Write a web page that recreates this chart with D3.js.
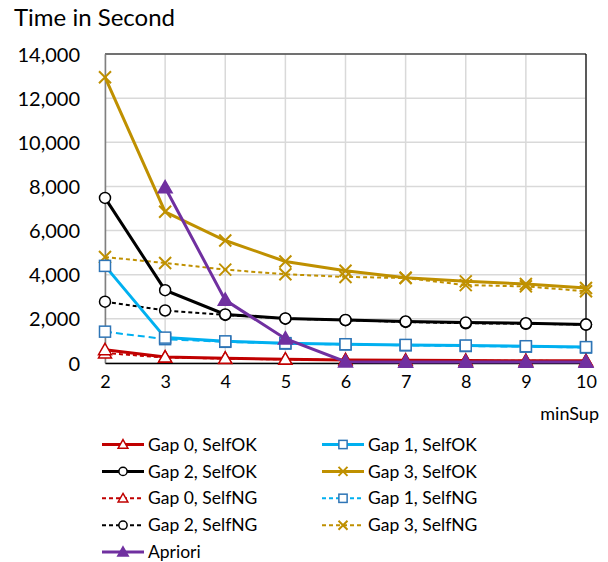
<!DOCTYPE html>
<html>
<head>
<meta charset="utf-8">
<script src="https://cdn.jsdelivr.net/npm/d3@7"></script>
<style>
  body { margin: 0; background: #fff; }
  text { font-family: Lato, "Open Sans", sans-serif; fill: #000; }
</style>
</head>
<body>
<script>
var minSup = [2, 3, 4, 5, 6, 7, 8, 9, 10];
var yTicks = [0, 2000, 4000, 6000, 8000, 10000, 12000, 14000];

var gap0OK = [600, 270, 210, 170, 140, 120, 110, 100, 100];
var gap1OK = [4400, 1150, 980, 900, 850, 820, 790, 760, 720];
var gap2OK = [7480, 3300, 2200, 2020, 1950, 1880, 1830, 1800, 1740];
var gap3OK = [12950, 6850, 5550, 4600, 4180, 3860, 3700, 3580, 3400];
var gap0NG = [450, 250, 200, 160, 130, 110, 100, 100, 90];
var gap1NG = [1420, 1080, 960, 880, 840, 800, 770, 740, 700];
var gap2NG = [2780, 2380, 2180, 2010, 1940, 1860, 1800, 1780, 1740];
var gap3NG = [4800, 4530, 4230, 4020, 3900, 3850, 3530, 3470, 3250];
var apriori = [null, 7950, 2850, 1100, 60, 50, 40, 40, 40];

var series = [
  { name: "Gap 0, SelfOK", values: gap0OK, color: "#C00000", dash: null, marker: "tri", mstroke: "#C00000", mfill: "#fff" },
  { name: "Gap 1, SelfOK", values: gap1OK, color: "#00B0F0", dash: null, marker: "sq", mstroke: "#2E75B6", mfill: "#fff" },
  { name: "Gap 2, SelfOK", values: gap2OK, color: "#000000", dash: null, marker: "circ", mstroke: "#000", mfill: "#fff" },
  { name: "Gap 3, SelfOK", values: gap3OK, color: "#BF9000", dash: null, marker: "x", mstroke: "#BF9000", mfill: "none" },
  { name: "Gap 0, SelfNG", values: gap0NG, color: "#C00000", dash: "4,3", marker: "tri", mstroke: "#C00000", mfill: "#fff" },
  { name: "Gap 1, SelfNG", values: gap1NG, color: "#00B0F0", dash: "7,4", marker: "sq", mstroke: "#2E75B6", mfill: "#fff" },
  { name: "Gap 2, SelfNG", values: gap2NG, color: "#000000", dash: "4,3", marker: "circ", mstroke: "#000", mfill: "#fff" },
  { name: "Gap 3, SelfNG", values: gap3NG, color: "#BF9000", dash: "4,3", marker: "x", mstroke: "#BF9000", mfill: "none" },
  { name: "Apriori", values: apriori, color: "#7030A0", dash: null, marker: "ftri", mstroke: "#7030A0", mfill: "#7030A0" }
];

var W = 608, H = 562;
var pLeft = 105, pRight = 586, pTop = 54, pBottom = 363;

var svg = d3.select("body").append("svg")
  .attr("width", W)
  .attr("height", H);

var x = d3.scaleLinear().domain([2, 10]).range([pLeft, pRight]);
var y = d3.scaleLinear().domain([0, 14000]).range([pBottom, pTop]);

// gridlines
svg.append("g")
  .selectAll("line")
  .data(yTicks)
  .enter()
  .append("line")
  .attr("x1", pLeft).attr("x2", pRight)
  .attr("y1", function(d) { return y(d); })
  .attr("y2", function(d) { return y(d); })
  .attr("stroke", "#d9d9d9").attr("stroke-width", 1.5);

svg.append("g")
  .selectAll("line")
  .data(minSup)
  .enter()
  .append("line")
  .attr("y1", pTop).attr("y2", pBottom)
  .attr("x1", function(d) { return x(d); })
  .attr("x2", function(d) { return x(d); })
  .attr("stroke", "#d9d9d9").attr("stroke-width", 1.5);

// border
svg.append("line").attr("x1", pLeft).attr("x2", pRight).attr("y1", pTop).attr("y2", pTop)
  .attr("stroke", "#000").attr("stroke-width", 1.2);
svg.append("line").attr("x1", pRight).attr("x2", pRight).attr("y1", pTop).attr("y2", pBottom)
  .attr("stroke", "#000").attr("stroke-width", 1.2);

// axes
var yAxis = d3.axisLeft(y).tickValues(yTicks).tickSize(0).tickPadding(25)
  .tickFormat(d3.format(","));
var gy = svg.append("g").attr("transform", "translate(" + pLeft + ",0)").call(yAxis);
gy.select(".domain").attr("stroke", "#808080").attr("stroke-width", 1.5);
gy.selectAll("text").style("font-size", "20px").attr("dy", "0.35em");

var xAxis = d3.axisBottom(x).tickValues(minSup).tickSize(0).tickPadding(12)
  .tickFormat(d3.format("d"));
var gx = svg.append("g").attr("transform", "translate(0," + pBottom + ")").call(xAxis);
gx.select(".domain").attr("stroke", "#000").attr("stroke-width", 1.5);
gx.selectAll("text").style("font-size", "18px");

svg.append("text")
  .attr("x", 14).attr("y", 26)
  .style("font-size", "24px")
  .text("Time in Second");

svg.append("text")
  .attr("x", 599).attr("y", 420)
  .attr("text-anchor", "end")
  .style("font-size", "18px")
  .text("minSup");

function drawMarker(g, type, cx, cy, s, sc) {
  sc = sc || 1;
  if (type === "tri" || type === "ftri") {
    var r = (type === "ftri" ? 7 : 6.5) * sc;
    g.append("path")
      .attr("d", "M" + cx + "," + (cy - r) + "L" + (cx + r) + "," + (cy + r * 0.75) + "L" + (cx - r) + "," + (cy + r * 0.75) + "Z")
      .attr("fill", s.mfill).attr("stroke", s.mstroke).attr("stroke-width", 1.5);
  } else if (type === "sq") {
    var h = 5.5 * sc;
    g.append("rect")
      .attr("x", cx - h).attr("y", cy - h).attr("width", 2 * h).attr("height", 2 * h)
      .attr("fill", s.mfill).attr("stroke", s.mstroke).attr("stroke-width", 1.5);
  } else if (type === "circ") {
    g.append("circle")
      .attr("cx", cx).attr("cy", cy).attr("r", 5.5 * sc)
      .attr("fill", s.mfill).attr("stroke", s.mstroke).attr("stroke-width", 1.5);
  } else if (type === "x") {
    var k = 6 * sc;
    g.append("path")
      .attr("d", "M" + (cx - k) + "," + (cy - k) + "L" + (cx + k) + "," + (cy + k) + "M" + (cx + k) + "," + (cy - k) + "L" + (cx - k) + "," + (cy + k))
      .attr("fill", "none").attr("stroke", s.mstroke).attr("stroke-width", 2);
  }
}

var line = d3.line()
  .defined(function(d) { return d.v !== null; })
  .x(function(d) { return x(d.x); })
  .y(function(d) { return y(d.v); });

// NG first, then OK, Apriori on top
var order = [4, 5, 6, 7, 0, 1, 2, 3, 8];
order.forEach(function(i) {
  var s = series[i];
  var pts = minSup.map(function(m, j) { return { x: m, v: s.values[j] }; });
  var g = svg.append("g");
  g.append("path")
    .datum(pts)
    .attr("d", line)
    .attr("fill", "none")
    .attr("stroke", s.color)
    .attr("stroke-width", s.dash ? 2 : 3)
    .attr("stroke-dasharray", s.dash);
  pts.filter(function(p) { return p.v !== null; }).forEach(function(p) {
    drawMarker(g, s.marker, x(p.x), y(p.v), s);
  });
});

// legend, two columns
var lg = svg.append("g");
series.forEach(function(s, k) {
  var col = k % 2, row = Math.floor(k / 2);
  var lx = col === 0 ? 102 : 322;
  var ly = 444.5 + row * 26.9;
  var g = lg.append("g");
  g.append("line")
    .attr("x1", lx).attr("x2", lx + 42)
    .attr("y1", ly).attr("y2", ly)
    .attr("stroke", s.color)
    .attr("stroke-width", s.dash ? 2 : 3)
    .attr("stroke-dasharray", s.dash ? "4,3" : null);
  drawMarker(g, s.marker, lx + 21, ly, s, 0.75);
  g.append("text")
    .attr("x", lx + 46).attr("y", ly)
    .attr("dy", "0.35em")
    .style("font-size", "17.5px")
    .text(s.name);
});
</script>
</body>
</html>
